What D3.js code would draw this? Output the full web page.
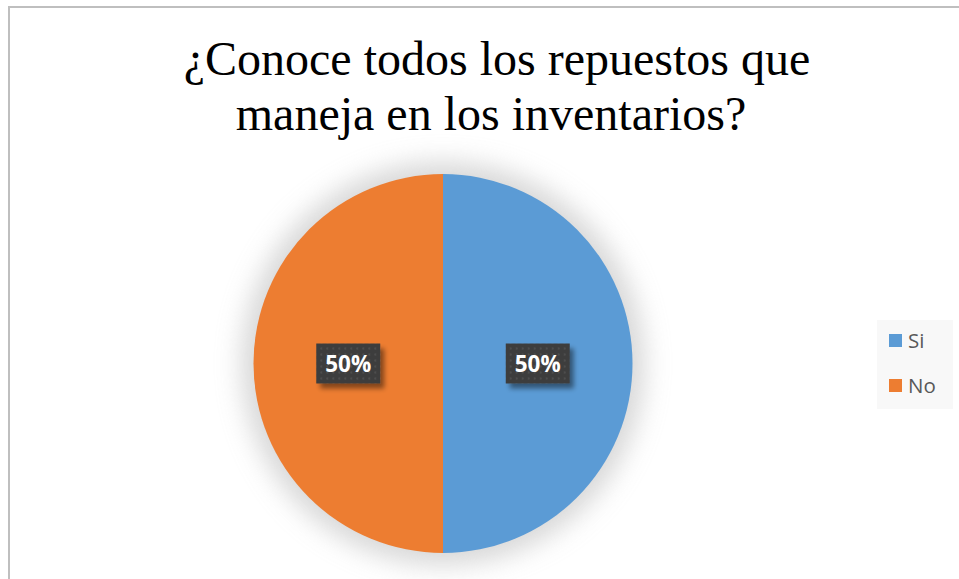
<!DOCTYPE html>
<html>
<head>
<meta charset="utf-8">
<script src="https://cdn.jsdelivr.net/npm/d3@7"></script>
<style>
  html, body { margin: 0; padding: 0; background: #fff; }
  svg { display: block; }
</style>
</head>
<body>
<svg id="chart" width="959" height="579"></svg>
<script>
// Survey answers and their shares
const categories = ["Si", "No"];
const values = [50, 50];
const colors = ["#5b9bd5", "#ed7d31"];
const titleLines = ["¿Conoce todos los repuestos que", "maneja en los inventarios? "];

const svg = d3.select("#chart");
const defs = svg.append("defs");

// Soft glow behind the pie
const glow = defs.append("filter").attr("id", "pieGlow")
  .attr("x", "-30%").attr("y", "-30%").attr("width", "160%").attr("height", "160%");
glow.append("feGaussianBlur").attr("stdDeviation", 13);

// Drop shadow for the value labels
const lblShadow = defs.append("filter").attr("id", "lblShadow")
  .attr("x", "-30%").attr("y", "-30%").attr("width", "170%").attr("height", "170%");
lblShadow.append("feGaussianBlur").attr("in", "SourceAlpha").attr("stdDeviation", 2.5).attr("result", "b");
lblShadow.append("feOffset").attr("in", "b").attr("dx", 4).attr("dy", 5).attr("result", "o");
lblShadow.append("feComponentTransfer").attr("in", "o").attr("result", "s")
  .append("feFuncA").attr("type", "linear").attr("slope", 0.45);
const merge = lblShadow.append("feMerge");
merge.append("feMergeNode").attr("in", "s");
merge.append("feMergeNode").attr("in", "SourceGraphic");

// Dotted texture on label boxes
const pat = defs.append("pattern").attr("id", "dots")
  .attr("width", 6).attr("height", 6).attr("patternUnits", "userSpaceOnUse");
pat.append("rect").attr("width", 6).attr("height", 6).attr("fill", "#3d3d3d");
pat.append("rect").attr("x", 2).attr("y", 2).attr("width", 2).attr("height", 2).attr("fill", "#4e4e4e");

// Chart frame (left and top edges visible)
svg.append("line").attr("x1", 9).attr("y1", 6).attr("x2", 9).attr("y2", 579)
  .attr("stroke", "#bfbfbf").attr("stroke-width", 2);
svg.append("line").attr("x1", 8).attr("y1", 7).attr("x2", 959).attr("y2", 7)
  .attr("stroke", "#bfbfbf").attr("stroke-width", 2);

// Title
svg.append("text")
  .attr("x", 497).attr("y", 75)
  .attr("text-anchor", "middle")
  .style("white-space", "pre")
  .attr("font-family", "'Liberation Serif', 'Times New Roman', serif")
  .attr("font-size", 48)
  .attr("fill", "#000")
  .selectAll("tspan").data(titleLines).join("tspan")
  .attr("x", 497).attr("dy", (d, i) => i === 0 ? 0 : 55)
  .text(d => d);

// Pie
const cx = 443, cy = 363.5, r = 189.5;
const g = svg.append("g").attr("transform", `translate(${cx},${cy})`);

g.append("circle").attr("r", r + 12).attr("fill", "#bdbdbd").attr("opacity", 0.6)
  .attr("filter", "url(#pieGlow)");

const pie = d3.pie().sort(null).value(d => d.v);
const data = pie(categories.map((c, i) => ({ c, v: values[i], color: colors[i] })));
const arc = d3.arc().innerRadius(0).outerRadius(r);

g.selectAll("path.slice").data(data).join("path")
  .attr("class", "slice")
  .attr("d", arc)
  .attr("fill", d => d.data.color);

// Value labels
const labelArc = d3.arc().innerRadius(r * 0.5).outerRadius(r * 0.5);
const total = d3.sum(values);
const lbl = g.selectAll("g.lbl").data(data).join("g")
  .attr("class", "lbl")
  .attr("transform", d => {
    const [x, y] = labelArc.centroid(d);
    return `translate(${x},${y})`;
  });
lbl.append("rect")
  .attr("x", -32).attr("y", -20).attr("width", 64).attr("height", 40)
  .attr("fill", "url(#dots)")
  .attr("filter", "url(#lblShadow)");
lbl.append("text")
  .attr("text-anchor", "middle")
  .attr("dy", "0.36em")
  .attr("font-family", "'Open Sans', 'Noto Sans', sans-serif")
  .attr("font-weight", "bold")
  .attr("font-size", 22.5)
  .attr("fill", "#fff")
  .text(d => Math.round(d.data.v / total * 100) + "%");

// Legend
const legend = svg.append("g");
legend.append("rect").attr("x", 877).attr("y", 320).attr("width", 76).attr("height", 89)
  .attr("fill", "#f8f8f8");
const items = legend.selectAll("g.item").data(categories).join("g")
  .attr("class", "item")
  .attr("transform", (d, i) => `translate(889,${340.5 + i * 45})`);
items.append("rect").attr("x", 0).attr("y", -6.5).attr("width", 13).attr("height", 13)
  .attr("fill", (d, i) => colors[i]);
items.append("text").attr("x", 19).attr("dy", "0.36em")
  .attr("font-family", "'Open Sans', 'Noto Sans', sans-serif")
  .attr("font-size", 20.5)
  .attr("fill", "#595959")
  .text(d => d);
</script>
</body>
</html>
